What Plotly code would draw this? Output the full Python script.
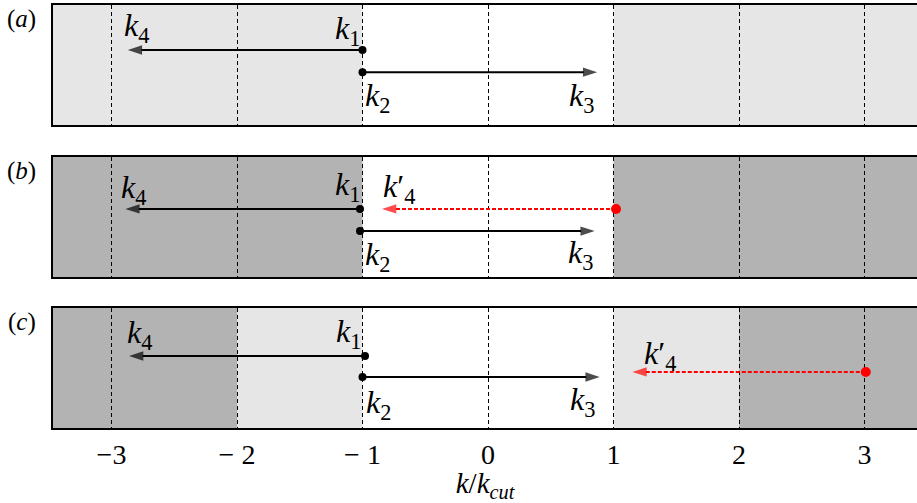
import plotly.graph_objects as go

# ---------------- data ----------------
tick_vals = [-3, -2, -1, 0, 1, 2, 3]
tick_text = ["\u22123", "\u2212 2", "\u2212 1", "0", "1", "2", "3"]
x_range = [-3.466, 3.418]

# shaded regions per panel: (x0, x1, shade)
shade_a = [(-4, -1, "light"), (1, 4, "light")]
shade_b = [(-4, -1, "dark"), (1, 4, "dark")]
shade_c = [(-4, -2, "dark"), (-2, -1, "light"), (1, 2, "light"), (2, 4, "dark")]

# arrows per panel: start x, tip x, y (fraction of panel height)
# panel (a)
a_k1_k4_x = [-1.0, -2.87]
a_k1_k4_y = [0.625, 0.625]
a_k2_k3_x = [-1.0, 0.87]
a_k2_k3_y = [0.44, 0.44]
# panel (b)
b_k1_k4_x = [-1.02, -2.89]
b_k1_k4_y = [0.567, 0.567]
b_k2_k3_x = [-1.02, 0.85]
b_k2_k3_y = [0.383, 0.383]
b_red_x = [1.02, -0.845]
b_red_y = [0.567, 0.567]
# panel (c)
c_k1_k4_x = [-0.98, -2.86]
c_k1_k4_y = [0.60, 0.60]
c_k2_k3_x = [-1.0, 0.89]
c_k2_k3_y = [0.425, 0.425]
c_red_x = [3.01, 1.15]
c_red_y = [0.467, 0.467]

panel_labels = ["(<i>a</i>)", "(<i>b</i>)", "(<i>c</i>)"]

# ---------------- style ----------------
LIGHT = "#e6e6e6"
DARK = "#b3b3b3"
RED = "#ff0000"
FONT = "'Liberation Serif', 'DejaVu Serif', serif"
LABEL_SIZE = 32
shade_col = {"light": LIGHT, "dark": DARK}

domains = [[0.7163, 1.0], [0.357, 0.6407], [0.0, 0.2837]]

fig = go.Figure()

def arrow(xs, ys, ax, color="black", dash="solid", dot=8, head=15):
    ya = ax.replace("x", "y")
    fig.add_trace(go.Scatter(
        x=xs, y=ys, xaxis=ax, yaxis=ya,
        mode="lines+markers",
        line=dict(color=color, width=2, dash=dash),
        marker=dict(symbol="arrow", size=[0, head], angleref="previous",
                    color=color, line=dict(width=0)),
        hoverinfo="skip", showlegend=False,
    ))
    fig.add_trace(go.Scatter(
        x=xs[:1], y=ys[:1], xaxis=ax, yaxis=ya, mode="markers",
        marker=dict(symbol="circle", size=dot, color=color, line=dict(width=0)),
        hoverinfo="skip", showlegend=False,
    ))

arrow(a_k1_k4_x, a_k1_k4_y, "x")
arrow(a_k2_k3_x, a_k2_k3_y, "x")
arrow(b_k1_k4_x, b_k1_k4_y, "x2")
arrow(b_k2_k3_x, b_k2_k3_y, "x2")
arrow(b_red_x, b_red_y, "x2", color=RED, dash="4px,2px", dot=10)
arrow(c_k1_k4_x, c_k1_k4_y, "x3")
arrow(c_k2_k3_x, c_k2_k3_y, "x3")
arrow(c_red_x, c_red_y, "x3", color=RED, dash="4px,2px", dot=10)

shapes = []
for i, shades in enumerate([shade_a, shade_b, shade_c]):
    xr = "x" if i == 0 else f"x{i+1}"
    yr = "y" if i == 0 else f"y{i+1}"
    for x0, x1, s in shades:
        shapes.append(dict(type="rect", xref=xr, yref=f"{yr} domain",
                           x0=x0, x1=x1, y0=0, y1=1, layer="below",
                           fillcolor=shade_col[s], line=dict(width=0)))

annotations = []

def label(text, x, y, ax, dx, dy, size=LABEL_SIZE):
    annotations.append(dict(text=text, x=x, y=y, xref=ax, yref=ax.replace("x", "y"),
                            showarrow=False, xshift=dx, yshift=dy,
                            xanchor="center", yanchor="middle",
                            font=dict(family=FONT, size=size, color="black")))

K = lambda n: f"<i>k</i><sub>{n}</sub>"
KP = lambda n: f"<i>k</i>\u2032<sub>{n}</sub>"

# panel a labels
label(K(1), a_k1_k4_x[0], a_k1_k4_y[0], "x", -15, 20)
label(K(4), a_k1_k4_x[1], a_k1_k4_y[1], "x", 9, 23)
label(K(2), a_k2_k3_x[0], a_k2_k3_y[0], "x", 15, -25)
label(K(3), a_k2_k3_x[1], a_k2_k3_y[1], "x", -16, -25)
# panel b labels
label(K(1), b_k1_k4_x[0], b_k1_k4_y[0], "x2", -12, 22)
label(K(4), b_k1_k4_x[1], b_k1_k4_y[1], "x2", 8, 19)
label(K(2), b_k2_k3_x[0], b_k2_k3_y[0], "x2", 18, -25)
label(K(3), b_k2_k3_x[1], b_k2_k3_y[1], "x2", -14, -23)
label(KP(4), b_red_x[1], b_red_y[1], "x2", 17, 20)
# panel c labels
label(K(1), c_k1_k4_x[0], c_k1_k4_y[0], "x3", -17, 22)
label(K(4), c_k1_k4_x[1], c_k1_k4_y[1], "x3", 10, 21)
label(K(2), c_k2_k3_x[0], c_k2_k3_y[0], "x3", 16, -28)
label(K(3), c_k2_k3_x[1], c_k2_k3_y[1], "x3", -17, -25)
label(KP(4), c_red_x[1], c_red_y[1], "x3", 28, 16)

# panel letters
for i, t in enumerate(panel_labels):
    yr = "y" if i == 0 else f"y{i+1}"
    annotations.append(dict(text=t, xref="paper", yref=f"{yr} domain",
                            x=-0.036, y=0.88, xanchor="center", yanchor="middle",
                            showarrow=False,
                            font=dict(family=FONT, size=25, color="black")))

axis_common = dict(range=x_range, tickvals=tick_vals, ticktext=tick_text,
                   showgrid=True, gridcolor="black", gridwidth=1, griddash="4px,3px",
                   showline=True, linecolor="black", linewidth=2, mirror=True,
                   ticks="", zeroline=False, fixedrange=True,
                   tickfont=dict(family=FONT, size=28, color="black"))
yaxis_common = dict(range=[0, 1], showgrid=False, zeroline=False,
                    showticklabels=False, showline=True, linecolor="black",
                    linewidth=2, mirror=False, ticks="", fixedrange=True)

layout = dict(
    width=917, height=503,
    margin=dict(l=53, r=0, t=5, b=75),
    paper_bgcolor="white", plot_bgcolor="white",
    shapes=shapes, annotations=annotations, showlegend=False,
)
for i in range(3):
    sfx = "" if i == 0 else str(i + 1)
    xa = dict(axis_common, anchor=f"y{sfx}", showticklabels=(i == 2))
    if i > 0:
        xa["matches"] = "x"
    if i == 2:
        xa["title"] = dict(text="<i>k</i>/<i>k</i><sub><i>cut</i></sub>",
                           font=dict(family=FONT, size=29, color="black"),
                           standoff=9)
    layout[f"xaxis{sfx}"] = xa
    layout[f"yaxis{sfx}"] = dict(yaxis_common, domain=domains[i], anchor=f"x{sfx}")

fig.update_layout(**layout)
fig.write_html("out.html", config={"displayModeBar": False},
               post_script="document.body.style.margin='0';")
